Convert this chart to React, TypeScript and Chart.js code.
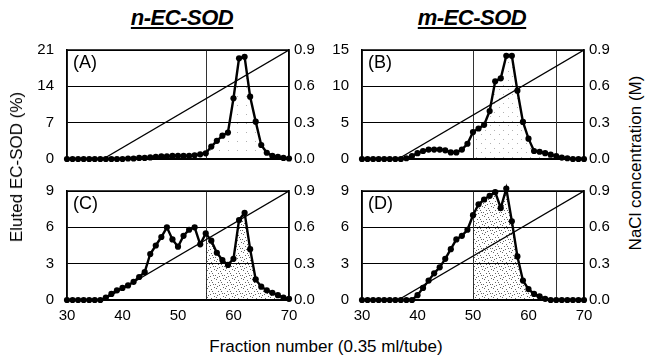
import { useEffect, useRef } from "react";
import { Chart, registerables } from "chart.js";
Chart.register(...registerables);

const fractions = [30, 31, 32, 33, 34, 35, 36, 37, 38, 39, 40, 41, 42, 43, 44, 45, 46, 47, 48, 49, 50, 51, 52, 53, 54, 55, 56, 57, 58, 59, 60, 61, 62, 63, 64, 65, 66, 67, 68, 69, 70];

const elutionA = [0, 0, 0, 0, 0, 0, 0, 0, 0, 0, 0, 0.1, 0.1, 0.2, 0.2, 0.3, 0.4, 0.5, 0.5, 0.6, 0.6, 0.6, 0.6, 0.7, 0.9, 1.1, 2.4, 3.5, 4.5, 5.1, 11.7, 19.4, 19.7, 12.0, 7.2, 2.7, 1.2, 0.6, 0.4, 0.2, 0.1];
const elutionB = [0, 0, 0, 0, 0, 0, 0, 0, 0.1, 0.4, 0.8, 1.1, 1.3, 1.3, 1.3, 1.2, 0.9, 0.9, 1.3, 2.1, 3.7, 4.2, 4.7, 6.6, 10.7, 11.1, 14.2, 14.2, 9.4, 5.1, 2.8, 1.1, 1.0, 0.8, 0.6, 0.4, 0.2, 0.1, 0, 0, 0];
const elutionC = [0, 0, 0, 0, 0, 0, 0, 0.2, 0.5, 0.8, 1.0, 1.2, 1.5, 1.9, 2.3, 3.8, 4.5, 5.2, 6.0, 5.0, 4.4, 5.3, 5.8, 6.0, 4.6, 5.5, 4.9, 3.9, 3.3, 2.9, 3.4, 6.6, 7.2, 4.2, 1.7, 1.1, 0.8, 0.6, 0.4, 0.2, 0.1];
const elutionD = [0, 0, 0, 0, 0, 0, 0, 0, 0, 0, 0.4, 1.0, 1.6, 2.2, 2.7, 3.4, 4.2, 5.0, 5.3, 5.8, 7.0, 7.9, 8.3, 8.6, 8.9, 7.6, 9.2, 6.5, 3.6, 1.6, 0.9, 0.5, 0.3, 0.1, 0, 0, 0, 0, 0, 0, 0];

const naclFractions = [36.5, 70];
const naclValues = [0, 0.9];

const xTickMin = 30;
const xTickMax = 70;
const xTickStep = 10;
const naclMax = 0.9;
const naclStep = 0.3;

const panelLabels = ["(A)", "(B)", "(C)", "(D)"];
const yMaxes = [21, 15, 9, 9];
const ySteps = [7, 5, 3, 3];
const markersA = [55];
const markersB = [50, 65];
const markersC = [55];
const markersD = [50, 65];
const shadeA = [55, 66];
const shadeB = [50, 65];
const shadeC = [55, 70];
const shadeD = [50, 65];

const FONT = "'Liberation Sans', Arial, Helvetica, sans-serif";

type Rect = { L: number; T: number; R: number; B: number };

const panels = [
  { label: panelLabels[0], values: elutionA, yMax: yMaxes[0], yStep: ySteps[0], markers: markersA, shade: shadeA, dense: 0, rect: { L: 67, T: 50, R: 289, B: 159 }, showX: false },
  { label: panelLabels[1], values: elutionB, yMax: yMaxes[1], yStep: ySteps[1], markers: markersB, shade: shadeB, dense: 1, rect: { L: 362, T: 50, R: 584, B: 159 }, showX: false },
  { label: panelLabels[2], values: elutionC, yMax: yMaxes[2], yStep: ySteps[2], markers: markersC, shade: shadeC, dense: 2, rect: { L: 67, T: 191, R: 289, B: 300 }, showX: true },
  { label: panelLabels[3], values: elutionD, yMax: yMaxes[3], yStep: ySteps[3], markers: markersD, shade: shadeD, dense: 2, rect: { L: 362, T: 191, R: 584, B: 300 }, showX: true },
];

const LEFT_W = 50;
const RIGHT_W = 42;
const PAD_T = 12;
const X_H = 30;

function makePattern(level: number): CanvasPattern | string {
  const c = document.createElement("canvas");
  c.width = 9;
  c.height = 9;
  const g = c.getContext("2d");
  if (!g) return "rgba(0,0,0,0.1)";
  g.fillStyle = level === 2 ? "rgba(0,0,0,0.6)" : "rgba(0,0,0,0.3)";
  const pts =
    level === 2
      ? [[1, 1], [5, 2], [3, 4], [7, 6], [0, 6], [4, 7], [8, 0], [2, 8], [6, 4]]
      : level === 1
      ? [[2, 2], [7, 6]]
      : [[4, 4]];
  pts.forEach(([x, y]) => g.fillRect(x, y, 1, 1));
  const p = g.createPattern(c, "repeat");
  return p || "rgba(0,0,0,0.1)";
}

function Panel({ cfg }: { cfg: (typeof panels)[number] }) {
  const ref = useRef<HTMLCanvasElement | null>(null);
  const r: Rect = cfg.rect;
  const cLeft = r.L - LEFT_W;
  const cTop = r.T - PAD_T;
  const cWidth = r.R - r.L + LEFT_W + RIGHT_W;
  const cHeight = r.B - r.T + PAD_T + (cfg.showX ? X_H : PAD_T);

  useEffect(() => {
    if (!ref.current) return;
    const points = fractions.map((f, i) => ({ x: f, y: cfg.values[i] }));
    const shadePts = points.filter((p) => p.x >= cfg.shade[0] && p.x <= cfg.shade[1]);
    const nacl = naclFractions.map((f, i) => ({ x: f, y: naclValues[i] }));

    const overlay = {
      id: "overlay",
      beforeDatasetsDraw(chart: any) {
        const { ctx, chartArea, scales } = chart;
        ctx.save();
        ctx.strokeStyle = "#333";
        ctx.lineWidth = 1;
        cfg.markers.forEach((m: number) => {
          const x = Math.round(scales.x.getPixelForValue(m)) + 0.5;
          ctx.beginPath();
          ctx.moveTo(x, chartArea.top);
          ctx.lineTo(x, chartArea.bottom);
          ctx.stroke();
        });
        ctx.fillStyle = "#000";
        ctx.font = "18px Arial, sans-serif";
        ctx.textAlign = "left";
        ctx.textBaseline = "middle";
        ctx.fillText(cfg.label, chartArea.left + 6, chartArea.top + 13);
        ctx.restore();
      },
      afterDraw(chart: any) {
        const { ctx, chartArea } = chart;
        ctx.save();
        ctx.strokeStyle = "#000";
        ctx.lineWidth = 1.5;
        ctx.strokeRect(chartArea.left, chartArea.top, chartArea.right - chartArea.left, chartArea.bottom - chartArea.top);
        ctx.restore();
      },
    };

    const tickFont = { family: FONT, size: 15 };
    const noPadV = (scale: any, w: number) => {
      scale.width = w;
      scale.paddingTop = 0;
      scale.paddingBottom = 0;
    };

    const chart = new Chart(ref.current, {
      type: "line",
      data: {
        datasets: [
          {
            data: points,
            borderColor: "#000",
            backgroundColor: "#000",
            borderWidth: 2.4,
            pointRadius: 3.1,
            pointHoverRadius: 0,
            pointBackgroundColor: "#000",
            pointBorderWidth: 0,
            yAxisID: "y",
            clip: false as any,
            order: 1,
          },
          {
            data: nacl,
            borderColor: "#000",
            borderWidth: 1.3,
            pointRadius: 0,
            pointHoverRadius: 0,
            yAxisID: "y2",
            order: 2,
          },
          {
            data: shadePts,
            borderWidth: 0,
            borderColor: "rgba(0,0,0,0)",
            pointRadius: 0,
            pointHoverRadius: 0,
            fill: "origin",
            backgroundColor: makePattern(cfg.dense) as any,
            yAxisID: "y",
            order: 3,
          },
        ],
      },
      options: {
        animation: false,
        responsive: false,
        maintainAspectRatio: false,
        events: [],
        layout: { autoPadding: false, padding: { top: PAD_T, bottom: cfg.showX ? 0 : PAD_T, left: 0, right: 0 } },
        plugins: { legend: { display: false }, tooltip: { enabled: false }, title: { display: false } },
        scales: {
          x: {
            type: "linear",
            min: xTickMin,
            max: xTickMax,
            ticks: {
              display: cfg.showX,
              stepSize: xTickStep,
              color: "#000",
              padding: 7,
              font: tickFont,
              maxRotation: 0,
            },
            grid: { display: false, drawTicks: false },
            border: { display: true, color: "#000", width: 1.5 },
            afterFit(scale: any) {
              scale.height = cfg.showX ? X_H : 0;
              scale.paddingLeft = 0;
              scale.paddingRight = 0;
            },
          },
          y: {
            type: "linear",
            position: "left",
            min: 0,
            max: cfg.yMax,
            ticks: {
              stepSize: cfg.yStep,
              color: "#000",
              padding: 13,
              font: tickFont,
            },
            grid: { color: "#000", lineWidth: 1, drawTicks: false },
            border: { display: true, color: "#000", width: 1.5 },
            afterFit(scale: any) {
              noPadV(scale, LEFT_W);
            },
          },
          y2: {
            type: "linear",
            position: "right",
            min: 0,
            max: naclMax,
            ticks: {
              stepSize: naclStep,
              color: "#000",
              padding: 5,
              font: tickFont,
              callback: (v: any) => Number(v).toFixed(1),
            },
            grid: { display: false, drawTicks: false },
            border: { display: true, color: "#000", width: 1.5 },
            afterFit(scale: any) {
              noPadV(scale, RIGHT_W);
            },
          },
        },
      } as any,
      plugins: [overlay],
    });
    return () => chart.destroy();
  }, []);

  return (
    <canvas
      ref={ref}
      width={cWidth}
      height={cHeight}
      style={{ position: "absolute", left: cLeft, top: cTop, width: cWidth, height: cHeight }}
    />
  );
}

const titleStyle: any = {
  position: "absolute",
  fontFamily: FONT,
  fontWeight: "bold",
  fontStyle: "italic",
  textDecoration: "underline",
  fontSize: 22,
  lineHeight: "26px",
  color: "#000",
  transform: "translateX(-50%)",
  whiteSpace: "nowrap",
  letterSpacing: "-0.5px",
};

const axisTitle: any = {
  position: "absolute",
  fontFamily: FONT,
  fontSize: 17,
  whiteSpace: "nowrap",
  color: "#000",
};

export default function App() {
  return (
    <div style={{ position: "fixed", left: 0, top: 0, width: 650, height: 363, background: "#fff", overflow: "hidden" }}>
      <div style={{ ...titleStyle, left: 182, top: 5 }}>n-EC-SOD</div>
      <div style={{ ...titleStyle, left: 472, top: 5 }}>m-EC-SOD</div>
      {panels.map((p, i) => (
        <Panel key={i} cfg={p} />
      ))}
      <div style={{ ...axisTitle, left: 17, top: 167, transform: "translate(-50%, -50%) rotate(-90deg)" }}>
        Eluted EC-SOD (%)
      </div>
      <div style={{ ...axisTitle, left: 636, top: 163, transform: "translate(-50%, -50%) rotate(-90deg)" }}>
        NaCl concentration (M)
      </div>
      <div style={{ ...axisTitle, left: 326, top: 347, transform: "translate(-50%, -50%)" }}>
        Fraction number (0.35 ml/tube)
      </div>
    </div>
  );
}
